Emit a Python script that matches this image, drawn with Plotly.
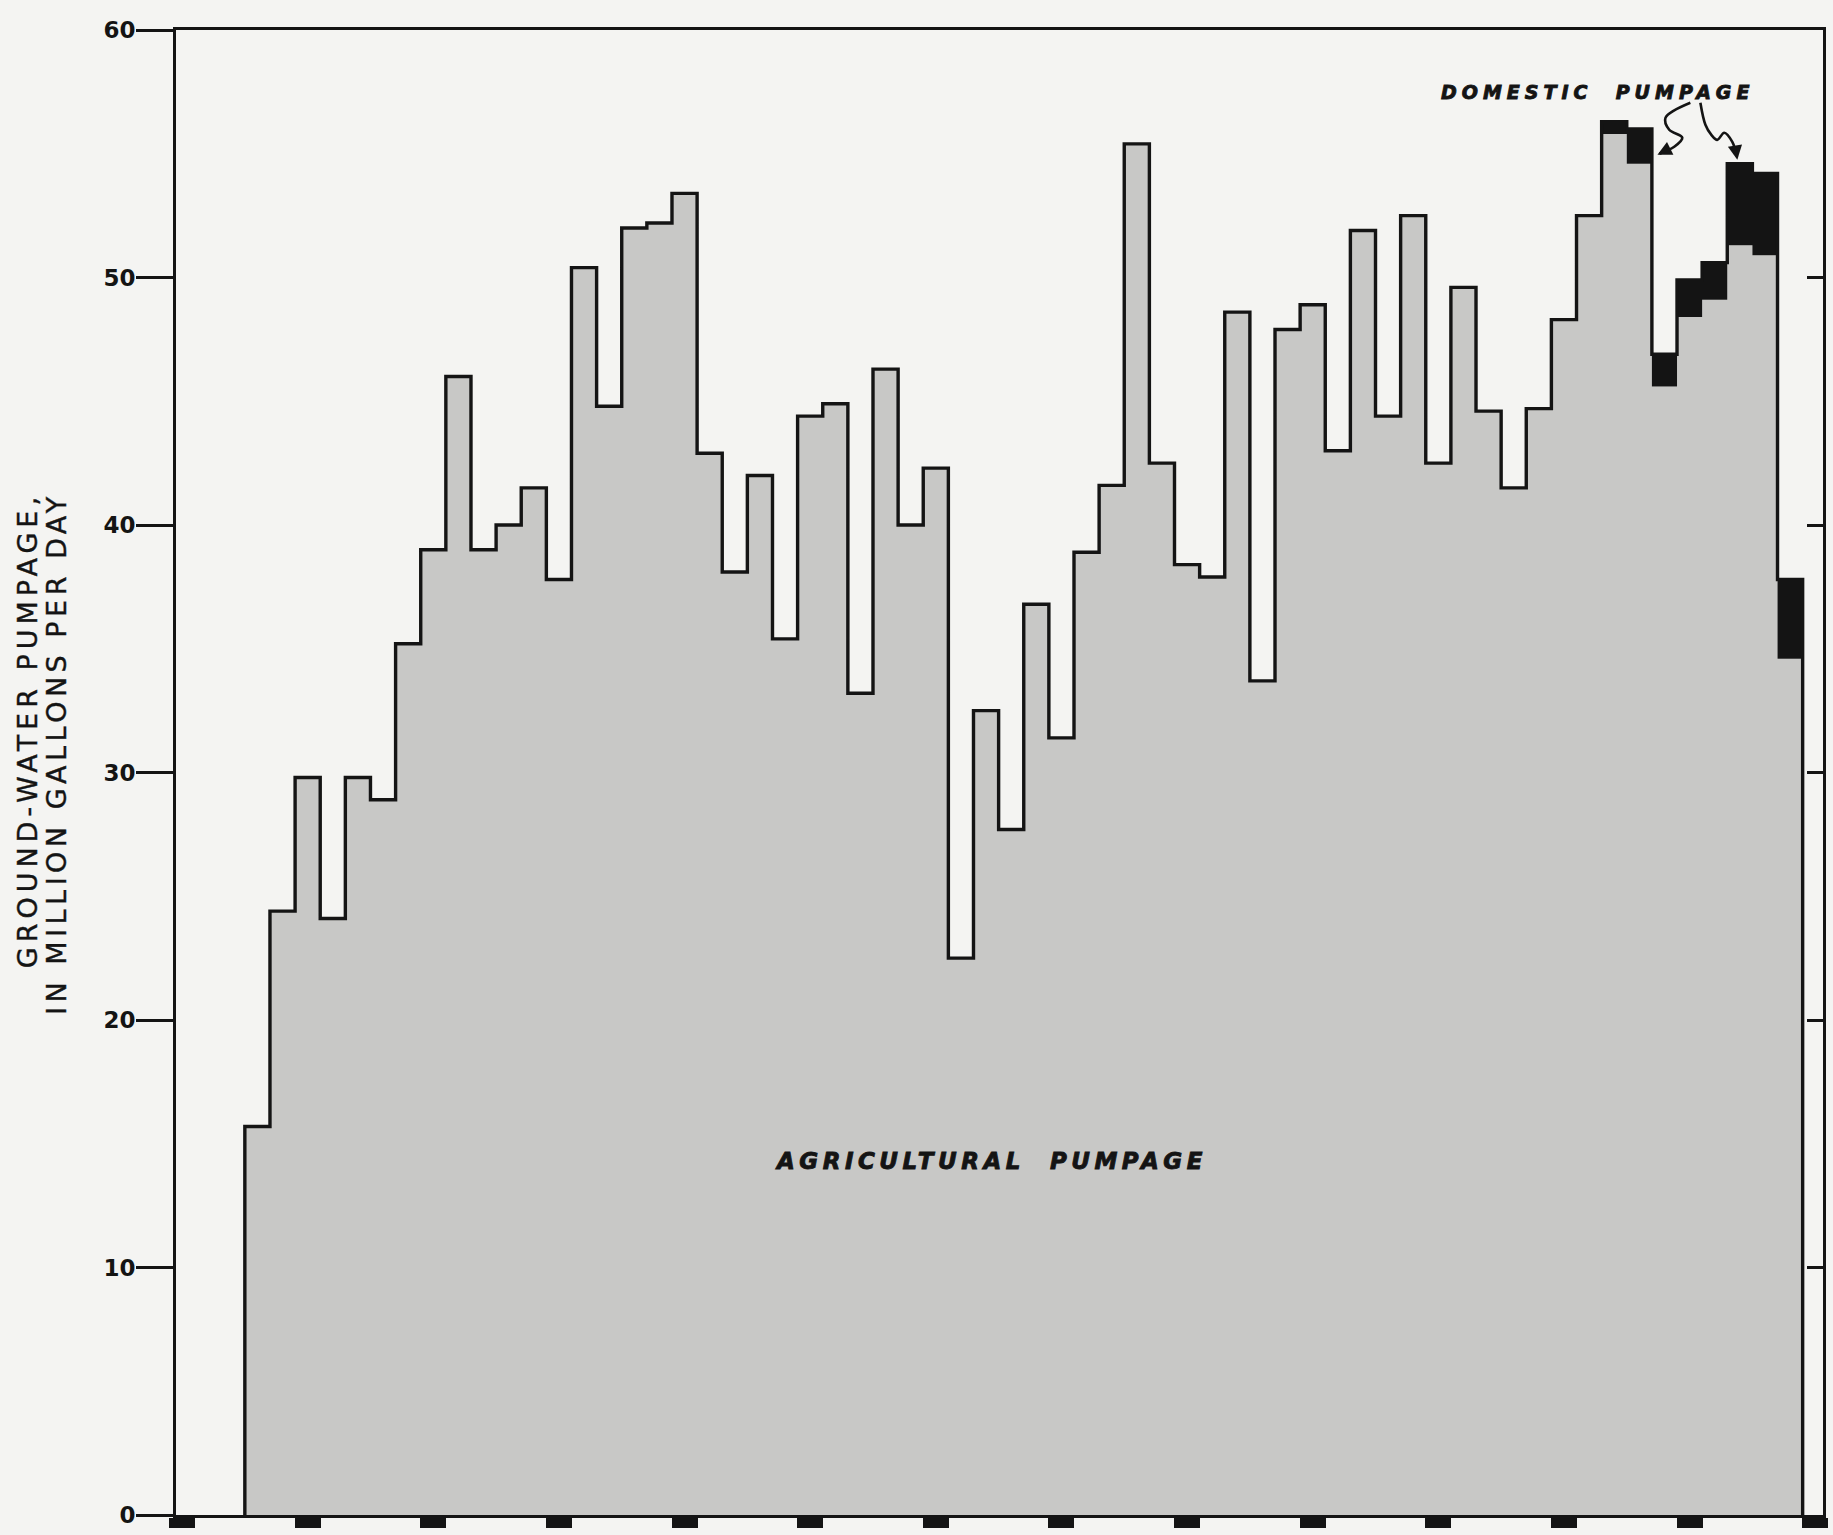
import plotly.graph_objects as go

# Annual ground-water pumpage, million gallons per day
years = list(range(1918, 1980))

agricultural = [
    15.7, 24.4, 29.8, 24.1, 29.8, 28.9, 35.2, 39.0, 46.0, 39.0,
    40.0, 41.5, 37.8, 50.4, 44.8, 52.0, 52.2, 53.4, 42.9, 38.1,
    42.0, 35.4, 44.4, 44.9, 33.2, 46.3, 40.0, 42.3, 22.5, 32.5,
    27.7, 36.8, 31.4, 38.9, 41.6, 55.4, 42.5, 38.4, 37.9, 48.6,
    33.7, 47.9, 48.9, 43.0, 51.9, 44.4, 52.5, 42.5, 49.6, 44.6,
    41.5, 44.7, 48.3, 52.5, 55.8, 54.6, 45.6, 48.4, 49.1, 51.3,
    50.9, 34.6,
]

domestic = [
    0.0, 0.0, 0.0, 0.0, 0.0, 0.0, 0.0, 0.0, 0.0, 0.0,
    0.0, 0.0, 0.0, 0.0, 0.0, 0.0, 0.0, 0.0, 0.0, 0.0,
    0.0, 0.0, 0.0, 0.0, 0.0, 0.0, 0.0, 0.0, 0.0, 0.0,
    0.0, 0.0, 0.0, 0.0, 0.0, 0.0, 0.0, 0.0, 0.0, 0.0,
    0.0, 0.0, 0.0, 0.0, 0.0, 0.0, 0.0, 0.0, 0.0, 0.0,
    0.0, 0.0, 0.0, 0.0, 0.5, 1.4, 1.3, 1.5, 1.5, 3.3,
    3.3, 3.2,
]

x_ticks = [1915, 1920, 1925, 1930, 1935, 1940, 1945, 1950, 1955, 1960, 1965, 1970, 1975, 1980]
y_ticks = [0, 10, 20, 30, 40, 50, 60]

INK = "#141414"
GRAY = "#c8c8c6"
PAPER = "#f4f4f2"

total = [a + d for a, d in zip(agricultural, domestic)]
edges = [y - 0.5 for y in years] + [years[-1] + 0.5]
agri_step = agricultural + [agricultural[-1]]
total_step = total + [total[-1]]
outline_x = [edges[0]] + edges + [edges[-1]]
outline_y = [0] + total + [total[-1], 0]

fig = go.Figure()

# gray agricultural area
fig.add_trace(go.Scatter(
    x=edges, y=agri_step, mode="lines", line=dict(shape="hv", width=0),
    fill="tozeroy", fillcolor=GRAY, hoverinfo="skip", showlegend=False,
))
# black domestic band stacked on top
fig.add_trace(go.Scatter(
    x=edges, y=total_step, mode="lines", line=dict(shape="hv", width=0),
    fill="tonexty", fillcolor=INK, hoverinfo="skip", showlegend=False,
))
# step outline of total pumpage
fig.add_trace(go.Scatter(
    x=outline_x, y=outline_y, mode="lines",
    line=dict(shape="hv", width=3.4, color=INK),
    hoverinfo="skip", showlegend=False,
))

# hand-drawn pointers from the domestic label
pointer_a_x = [1975.03, 1974.04, 1974.19, 1974.71, 1974.39, 1973.80]
pointer_a_y = [57.06, 56.45, 55.97, 55.65, 55.28, 55.00]
pointer_b_x = [1975.43, 1975.63, 1975.86, 1976.10, 1976.38, 1976.70, 1976.86]
pointer_b_y = [57.06, 56.17, 55.77, 55.56, 55.85, 55.48, 54.95]
for px, py in ((pointer_a_x, pointer_a_y), (pointer_b_x, pointer_b_y)):
    fig.add_trace(go.Scatter(
        x=px, y=py, mode="lines", line=dict(shape="spline", width=2.6, color=INK),
        hoverinfo="skip", showlegend=False,
    ))

# invisible trace to carry the right-hand tick axis
fig.add_trace(go.Scatter(x=[x_ticks[0]], y=[0], yaxis="y2", mode="markers",
                         marker=dict(opacity=0), hoverinfo="skip", showlegend=False))

HEAVY = "stroke:#141414;stroke-width:0.9px;"
MEDIUM = "stroke:#141414;stroke-width:0.4px;"

annotations = [
    dict(x=1973.72, y=54.96, ax=12, ay=-6, xref="x", yref="y", text="",
         showarrow=True, arrowhead=2, arrowsize=1.1, arrowwidth=2.6, arrowcolor=INK),
    dict(x=1976.9, y=54.76, ax=-2, ay=-12, xref="x", yref="y", text="",
         showarrow=True, arrowhead=2, arrowsize=1.1, arrowwidth=2.6, arrowcolor=INK),
    dict(x=1971.33, y=57.5, xref="x", yref="y", showarrow=False,
         text=f'<span style="letter-spacing:5px;{HEAVY}">DOMESTIC  PUMPAGE</span>',
         font=dict(family="DejaVu Sans", size=19, color=INK, weight=700, style="italic")),
    dict(x=1947.2, y=14.3, xref="x", yref="y", showarrow=False,
         text=f'<span style="letter-spacing:4.5px;{HEAVY}">AGRICULTURAL  PUMPAGE</span>',
         font=dict(family="DejaVu Sans", size=23, color=INK, weight=700, style="italic")),
    dict(x=-0.0905, y=0.690, xref="paper", yref="paper", xanchor="center", yanchor="top",
         textangle=-90, showarrow=False,
         text=f'<span style="letter-spacing:5px;{MEDIUM}">GROUND-WATER PUMPAGE,</span>',
         font=dict(family="DejaVu Sans", size=27, color=INK)),
    dict(x=-0.0722, y=0.690, xref="paper", yref="paper", xanchor="center", yanchor="top",
         textangle=-90, showarrow=False,
         text=f'<span style="letter-spacing:4.5px;{MEDIUM}">IN MILLION GALLONS PER DAY</span>',
         font=dict(family="DejaVu Sans", size=27, color=INK)),
]

fig.update_layout(
    width=1833, height=1535,
    margin=dict(l=176, r=7, t=30, b=17),
    paper_bgcolor=PAPER, plot_bgcolor=PAPER,
    showlegend=False,
    annotations=annotations,
    xaxis=dict(
        range=[1914.76, 1980.31], tickvals=x_ticks, showticklabels=False,
        ticks="outside", ticklen=10, tickwidth=26, tickcolor=INK,
        showline=True, linewidth=3, linecolor=INK, mirror=True,
        showgrid=False, zeroline=False,
    ),
    yaxis=dict(
        range=[0, 60], tickvals=y_ticks,
        ticks="outside", ticklen=37, tickwidth=3, tickcolor=INK,
        tickfont=dict(family="DejaVu Sans", size=23, color=INK, weight=700),
        ticklabelstandoff=-4,
        showline=True, linewidth=3, linecolor=INK, mirror=True,
        showgrid=False, zeroline=False,
    ),
    yaxis2=dict(
        range=[0, 60], tickvals=y_ticks, overlaying="y", side="right",
        ticks="inside", ticklen=16, tickwidth=3, tickcolor=INK,
        showticklabels=False, showline=False, showgrid=False, zeroline=False,
    ),
)

fig.write_html("out.html")
